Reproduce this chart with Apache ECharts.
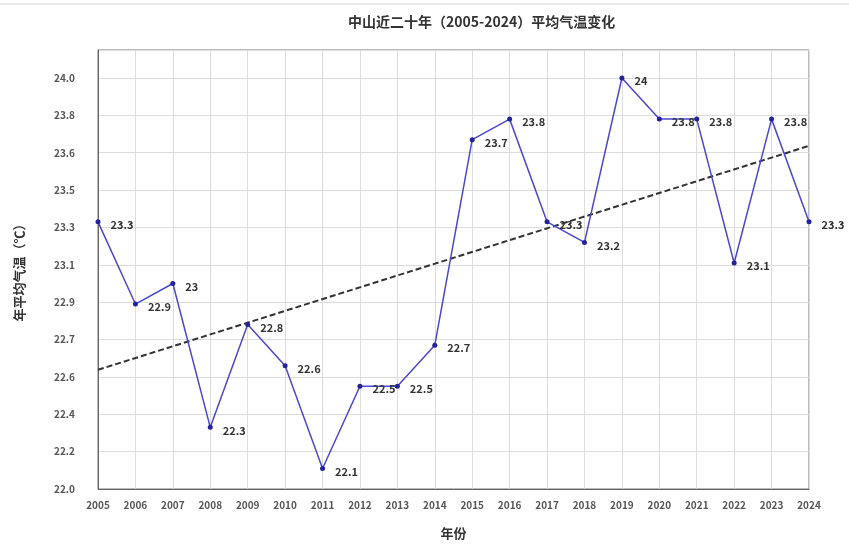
<!DOCTYPE html>
<html>
<head>
<meta charset="utf-8">
<script src="https://cdn.jsdelivr.net/npm/echarts@6/dist/echarts.min.js"></script>
<style>html,body{margin:0;padding:0;background:#fff;}#c{width:849px;height:547px;}</style>
</head>
<body>
<div id="c"></div>
<script>
const years = ['2005','2006','2007','2008','2009','2010','2011','2012','2013','2014','2015','2016','2017','2018','2019','2020','2021','2022','2023','2024'];
const temps = [23.3,22.9,23.0,22.3,22.8,22.6,22.1,22.5,22.5,22.7,23.7,23.8,23.3,23.2,24.0,23.8,23.8,23.1,23.8,23.3];
const yTickLabels = ['22.0','22.2','22.4','22.6','22.7','22.9','23.1','23.3','23.5','23.6','23.8','24.0'];
const trendYears = ['2005','2024'];
const trendValues = [22.58, 23.67];

const FONT = '"Noto Sans CJK SC", "Noto Sans", sans-serif';
const yMin = 22, yStep = 2/11, yMax = 22 + 11.75 * (2/11);

const chart = echarts.init(document.getElementById('c'), null, {renderer:'canvas'});
chart.setOption({
  animation: false,
  backgroundColor: '#fff',
  title: {
    text: '中山近二十年（2005-2024）平均气温变化',
    left: 343, top: 10,
    textStyle: {fontFamily: FONT, fontSize: 14, fontWeight: 'bold', color: '#333'}
  },
  graphic: [{
    type: 'line', shape: {x1: 0, y1: 4, x2: 849, y2: 4},
    style: {stroke: '#d0d0d0', lineWidth: 1}
  }],
  grid: {left: 98, right: 40, top: 50, bottom: 58, show: true, borderColor: '#777', borderWidth: 1},
  xAxis: {
    type: 'category', data: years, boundaryGap: false,
    name: '年份', nameLocation: 'middle', nameGap: 38,
    nameTextStyle: {fontFamily: FONT, fontSize: 13, fontWeight: 'bold', color: '#333'},
    axisLine: {lineStyle: {color: '#666'}},
    axisTick: {show: false},
    axisLabel: {fontFamily: FONT, fontSize: 10, color: '#555', margin: 11, fontWeight: 'bold'},
    splitLine: {show: true, lineStyle: {color: '#dcdcdc', width: 1}}
  },
  yAxis: {
    type: 'value', min: yMin, max: yMax, interval: yStep,
    name: '年平均气温（℃）', nameLocation: 'middle', nameGap: 72, nameRotate: 90,
    nameTextStyle: {fontFamily: FONT, fontSize: 13, fontWeight: 'bold', color: '#333'},
    axisLine: {show: true, lineStyle: {color: '#666'}},
    axisTick: {show: false},
    axisLabel: {
      fontFamily: FONT, fontSize: 10, color: '#555', margin: 23, fontWeight: 'bold',
      formatter: function (v) {
        const i = Math.round((v - yMin) / yStep);
        if (i < 0 || i >= yTickLabels.length) return '';
        if (Math.abs(v - (yMin + i * yStep)) > 1e-6) return '';
        return yTickLabels[i];
      }
    },
    splitLine: {show: true, lineStyle: {color: '#dcdcdc', width: 1}}
  },
  series: [
    {
      type: 'line', data: temps,
      symbol: 'circle', symbolSize: 5,
      lineStyle: {color: '#4848d0', width: 1.5},
      itemStyle: {color: '#22229a'},
      label: {
        show: true, position: 'right', distance: 10, offset: [0, 3],
        fontFamily: FONT, fontSize: 11, fontWeight: 'bold', color: '#333',
        formatter: function (p) { return String(p.value); }
      },
      z: 3
    },
    {
      type: 'line', data: trendYears.map((y, i) => [y, trendValues[i]]),
      symbol: 'none',
      lineStyle: {color: '#333', width: 2, type: [6, 3]},
      z: 2
    }
  ]
});
</script>
</body>
</html>
